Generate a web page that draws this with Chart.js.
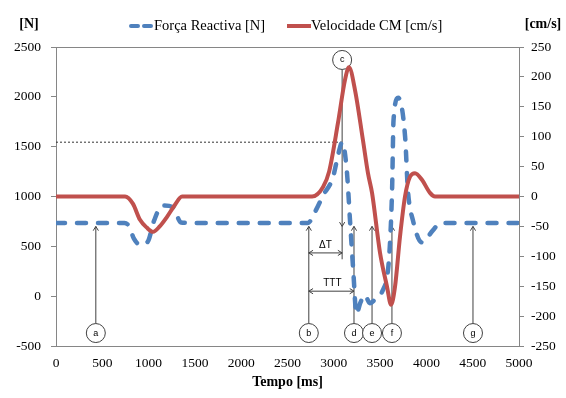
<!DOCTYPE html>
<html>
<head>
<meta charset="utf-8">
<script src="https://cdn.jsdelivr.net/npm/chart.js@4.4.1/dist/chart.umd.min.js"></script>
<style>
  body { margin: 0; background: #fff; }
  #wrap { width: 566px; height: 398px; }
</style>
</head>
<body>
<div id="wrap"><canvas id="chart" width="566" height="398"></canvas></div>
<script>
// Força reactiva [N] (eixo esquerdo)
const forceTime = [0, 500, 740, 790, 840, 910, 990, 1060, 1150, 1260, 1350, 1450, 2000, 2720, 2800, 2884, 2990, 3050, 3090, 3140, 3175, 3210, 3245, 3285, 3335, 3390, 3465, 3530, 3585, 3610, 3630, 3645, 3695, 3770, 3800, 3855, 3950, 4070, 4150, 4500, 5000];
const forceN = [735, 735, 735, 700, 580, 515, 545, 760, 910, 895, 740, 735, 735, 735, 850, 1010, 1190, 1430, 1545, 1265, 760, 260, -180, -70, 10, -70, -10, 60, 260, 590, 1090, 1765, 1990, 1600, 1065, 760, 540, 660, 735, 735, 735];

// Velocidade CM [cm/s] (eixo direito)
const velTime = [0, 500, 746, 830, 907, 980, 1048, 1120, 1199, 1280, 1361, 2000, 2765, 2884, 2950, 3045, 3121, 3164, 3229, 3315, 3369, 3413, 3499, 3575, 3618, 3661, 3715, 3769, 3823, 3877, 3952, 4039, 4093, 4500, 5000];
const velCm = [0, 0, 0, -12, -39, -52, -59, -50, -34, -15, 0, 0, 0, 16, 42, 123, 195, 216, 178, 94, 39, 6, -94, -151, -181, -151, -67, 0, 33, 39, 28, 6, 0, 0, 0];

// marcadores (instantes em ms)
const markerLabels = ["a", "b", "d", "e", "f", "g"];
const markerTime = [430, 2730, 3218, 3413, 3628, 4503];
const peakTime = 3090;     // c
const peakForce = 1545;    // linha pontilhada

const serif = "'Liberation Serif', 'Times New Roman', serif";
const blue = "#4F81BD";
const red = "#C0504D";
const axisGray = "#868686";

function arrowHead(ctx, x, y, dir) {
  // dir: angle the arrow points to
  const len = 5, spread = 0.55;
  ctx.beginPath();
  ctx.moveTo(x - len * Math.cos(dir - spread), y - len * Math.sin(dir - spread));
  ctx.lineTo(x, y);
  ctx.lineTo(x - len * Math.cos(dir + spread), y - len * Math.sin(dir + spread));
  ctx.stroke();
}

function circleLabel(ctx, x, y, text) {
  ctx.beginPath();
  ctx.arc(x, y, 9.5, 0, Math.PI * 2);
  ctx.fillStyle = "#fff";
  ctx.fill();
  ctx.strokeStyle = "#404040";
  ctx.stroke();
  ctx.fillStyle = "#000";
  ctx.font = "9px 'Liberation Sans', Arial, sans-serif";
  ctx.textAlign = "center";
  ctx.textBaseline = "middle";
  ctx.fillText(text, x, y);
}

const annotations = {
  id: "annotations",
  beforeDatasetsDraw(chart) {
    const ctx = chart.ctx;
    const xs = chart.scales.x, ys = chart.scales.y;
    const px = (t) => xs.getPixelForValue(t);
    const py = (v) => ys.getPixelForValue(v);
    ctx.save();
    ctx.lineWidth = 1;

    // linha pontilhada ao pico
    ctx.strokeStyle = "#333";
    ctx.setLineDash([2, 2]);
    ctx.beginPath();
    ctx.moveTo(chart.chartArea.left, py(peakForce));
    ctx.lineTo(px(peakTime), py(peakForce));
    ctx.stroke();
    ctx.setLineDash([]);

    const tipY = py(700);
    const circY = py(-370);
    ctx.strokeStyle = "#404040";
    markerTime.forEach((t, i) => {
      const x = px(t);
      ctx.beginPath();
      ctx.moveTo(x, circY - 9.5);
      ctx.lineTo(x, tipY);
      ctx.stroke();
      arrowHead(ctx, x, tipY, -Math.PI / 2);
    });

    // c: seta para baixo
    const cx = px(peakTime), cy = py(2370);
    ctx.beginPath();
    ctx.moveTo(cx, cy + 9.5);
    ctx.lineTo(cx, py(370));
    ctx.stroke();
    arrowHead(ctx, cx, tipY, Math.PI / 2);

    // ΔT e TTT
    const bx = px(markerTime[1]);
    const dtY = py(434), tttY = py(50);
    ctx.beginPath();
    ctx.moveTo(bx, dtY); ctx.lineTo(cx, dtY);
    ctx.moveTo(bx, tttY); ctx.lineTo(px(markerTime[2]), tttY);
    ctx.stroke();
    arrowHead(ctx, bx, dtY, Math.PI);
    arrowHead(ctx, cx, dtY, 0);
    arrowHead(ctx, bx, tttY, Math.PI);
    arrowHead(ctx, px(markerTime[2]), tttY, 0);

    ctx.fillStyle = "#000";
    ctx.font = "10px 'Liberation Sans', Arial, sans-serif";
    ctx.textAlign = "center";
    ctx.textBaseline = "middle";
    ctx.fillText("\u0394T", (bx + cx) / 2, dtY - 8);
    ctx.fillText("TTT", (bx + px(markerTime[2])) / 2 + 1, tttY - 8);

    markerTime.forEach((t, i) => circleLabel(ctx, px(t), circY, markerLabels[i]));
    circleLabel(ctx, cx, cy, "c");
    ctx.restore();
  },
  afterDraw(chart) {
    const ctx = chart.ctx;
    const a = chart.chartArea;
    ctx.save();
    // moldura
    ctx.strokeStyle = axisGray;
    ctx.lineWidth = 1;
    ctx.beginPath();
    ctx.moveTo(a.left, a.top + 0.5);
    ctx.lineTo(a.right, a.top + 0.5);
    ctx.stroke();

    // títulos dos eixos
    ctx.fillStyle = "#000";
    ctx.font = "bold 14px " + serif;
    ctx.textAlign = "center";
    ctx.textBaseline = "middle";
    ctx.fillText("[N]", 29, 24);
    ctx.fillText("[cm/s]", 543, 24);

    // legenda
    const ly = 26;
    ctx.lineCap = "round";
    ctx.strokeStyle = blue;
    ctx.lineWidth = 4;
    ctx.beginPath();
    ctx.moveTo(131, ly); ctx.lineTo(138, ly);
    ctx.moveTo(144, ly); ctx.lineTo(151, ly);
    ctx.stroke();
    ctx.strokeStyle = red;
    ctx.lineCap = "butt";
    ctx.beginPath();
    ctx.moveTo(287, ly); ctx.lineTo(311, ly);
    ctx.stroke();
    ctx.font = "14.5px " + serif;
    ctx.textAlign = "left";
    ctx.fillText("Força Reactiva [N]", 154, ly);
    ctx.fillText("Velocidade CM [cm/s]", 311, ly);
    ctx.restore();
  }
};

const toPoints = (xs, ys) => xs.map((x, i) => ({ x: x, y: ys[i] }));
const plain = (v) => String(v);

new Chart(document.getElementById("chart"), {
  type: "line",
  data: {
    datasets: [
      {
        label: "Força Reactiva [N]",
        data: toPoints(forceTime, forceN),
        yAxisID: "y",
        borderColor: blue,
        borderWidth: 4.5,
        borderDash: [9, 12],
        borderCapStyle: "round",
        pointRadius: 0,
        cubicInterpolationMode: "monotone",
        order: 2
      },
      {
        label: "Velocidade CM [cm/s]",
        data: toPoints(velTime, velCm),
        yAxisID: "y1",
        borderColor: red,
        borderWidth: 4,
        pointRadius: 0,
        cubicInterpolationMode: "monotone",
        order: 1
      }
    ]
  },
  options: {
    responsive: false,
    animation: false,
    devicePixelRatio: 1,
    layout: { padding: { top: 47, left: 0, right: 0, bottom: 0 } },
    plugins: {
      legend: { display: false },
      tooltip: { enabled: false }
    },
    scales: {
      x: {
        type: "linear",
        min: 0,
        max: 5000,
        afterFit: (s) => { s.height = 52; },
        ticks: { stepSize: 500, padding: 9, color: "#000", font: { family: serif, size: 13.5 }, maxRotation: 0, callback: plain },
        grid: { drawOnChartArea: false, drawTicks: false },
        border: { color: axisGray },
        title: { display: true, text: "Tempo [ms]", color: "#000", font: { family: serif, size: 14, weight: "bold" }, padding: { top: 0, bottom: 7 } }
      },
      y: {
        position: "left",
        min: -500,
        max: 2500,
        afterFit: (s) => { s.width = 56; },
        ticks: { stepSize: 500, padding: 10, color: "#000", font: { family: serif, size: 13.5 }, callback: plain },
        grid: { drawOnChartArea: false, tickLength: 5, color: axisGray },
        border: { color: axisGray }
      },
      y1: {
        position: "right",
        min: -250,
        max: 250,
        afterFit: (s) => { s.width = 47; },
        ticks: { stepSize: 50, padding: 7, color: "#000", font: { family: serif, size: 13.5 }, callback: plain },
        grid: { drawOnChartArea: false, tickLength: 5, color: axisGray },
        border: { color: axisGray }
      }
    }
  },
  plugins: [annotations]
});
</script>
</body>
</html>
